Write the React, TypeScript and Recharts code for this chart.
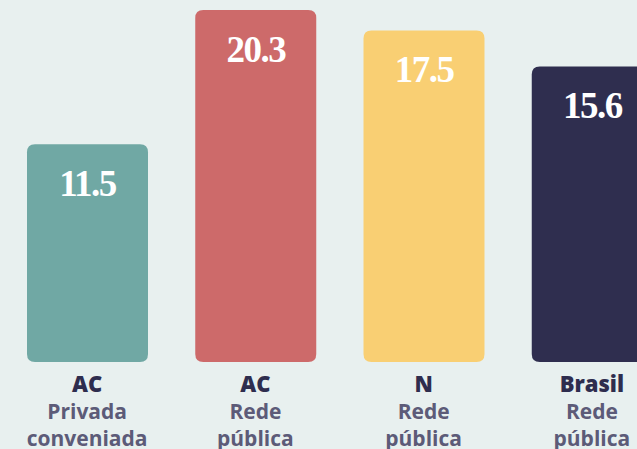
import React from "react";
import { BarChart, Bar, XAxis, YAxis, Cell } from "recharts";

const regions = ["AC", "AC", "N", "Brasil"];
const networks1 = ["Privada", "Rede", "Rede", "Rede"];
const networks2 = ["conveniada", "pública", "pública", "pública"];
const values = [11.5, 20.3, 17.5, 15.6];
const colors = ["#70a8a4", "#cd6a6a", "#f9cf73", "#2f2e4f"];

const data = regions.map((r, i) => ({
  key: String(i),
  region: r,
  l1: networks1[i],
  l2: networks2[i],
  value: values[i],
}));

const TOP = 10;

const BarShape = (props: any) => {
  const { x, width, fill, value } = props;
  let { y, height } = props;
  const bottom = y + height;
  if (y < TOP) {
    y = TOP;
    height = bottom - TOP;
  }
  const r = 8;
  const d = `M${x},${y + r} Q${x},${y} ${x + r},${y} L${x + width - r},${y} Q${x + width},${y} ${x + width},${y + r} L${x + width},${bottom - r} Q${x + width},${bottom} ${x + width - r},${bottom} L${x + r},${bottom} Q${x},${bottom} ${x},${bottom - r} Z`;
  const v = Array.isArray(value) ? value[1] - value[0] : value;
  return (
    <g>
      <path d={d} fill={fill} />
      <text
        x={x + width / 2}
        y={y + 52}
        textAnchor="middle"
        fill="#ffffff"
        fontFamily="'Liberation Serif', serif"
        fontWeight="bold"
        fontSize={37}
        letterSpacing={-1.5}
      >
        {Number(v).toFixed(1)}
      </text>
    </g>
  );
};

const Tick = (props: any) => {
  const { x, payload } = props;
  const d = data[payload.index] || data.find((e) => e.key === payload.value);
  if (!d) return null;
  return (
    <g>
      <text x={x} y={392} textAnchor="middle" fill="#2e2d4e" fontFamily="'Open Sans', sans-serif" fontWeight={800} fontSize={22}>
        {d.region}
      </text>
      <text x={x} y={419} textAnchor="middle" fill="#5c5b78" fontFamily="'Open Sans', sans-serif" fontWeight={700} fontSize={21}>
        {d.l1}
      </text>
      <text x={x} y={446} textAnchor="middle" fill="#5c5b78" fontFamily="'Open Sans', sans-serif" fontWeight={700} fontSize={21}>
        {d.l2}
      </text>
    </g>
  );
};

export default function App() {
  return (
    <div
      style={{
        position: "fixed",
        left: 0,
        top: 0,
        width: 637,
        height: 449,
        overflow: "hidden",
        background: "#e8f0ef",
      }}
    >
      <BarChart
        width={680}
        height={449}
        data={data}
        margin={{ top: TOP, right: 4, left: 3, bottom: 0 }}
        barSize={121}
      >
        <YAxis hide domain={[0, 18.58]} allowDataOverflow />
        <XAxis
          dataKey="key"
          axisLine={false}
          tickLine={false}
          height={87}
          interval={0}
          tick={<Tick />}
        />
        <Bar dataKey="value" isAnimationActive={false} shape={<BarShape />}>
          {data.map((d, i) => (
            <Cell key={d.key} fill={colors[i]} />
          ))}
        </Bar>
      </BarChart>
    </div>
  );
}
